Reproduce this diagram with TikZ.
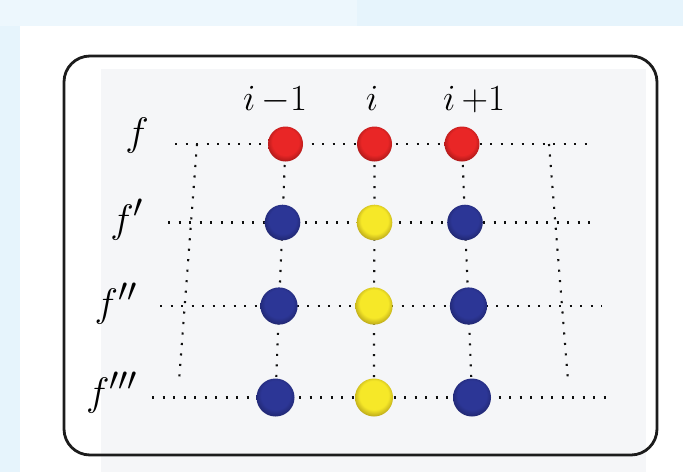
\documentclass[tikz,border=0pt]{standalone}

\definecolor{bandblue}{RGB}{230,244,252}
\definecolor{bandblueL}{RGB}{237,247,253}
\definecolor{panelgray}{RGB}{245,246,248}
\definecolor{framecol}{RGB}{28,28,28}
\definecolor{dotcol}{RGB}{15,15,15}
\definecolor{ballred}{RGB}{233,38,38}
\definecolor{ballredD}{RGB}{160,22,22}
\definecolor{ballredE}{RGB}{110,15,15}
\definecolor{ballblue}{RGB}{44,54,150}
\definecolor{ballblueD}{RGB}{30,36,105}
\definecolor{ballblueE}{RGB}{20,24,70}
\definecolor{ballyellow}{RGB}{246,232,40}
\definecolor{ballyellowD}{RGB}{175,155,22}
\definecolor{ballyellowE}{RGB}{120,105,15}

% soft sphere shadings: flat face, darker rim towards the bottom
\pgfdeclareradialshading{redsphere}{\pgfpoint{0bp}{5bp}}{color(0bp)=(ballred); color(19bp)=(ballred); color(29bp)=(ballredD); color(50bp)=(ballredE)}
\pgfdeclareradialshading{bluesphere}{\pgfpoint{0bp}{5bp}}{color(0bp)=(ballblue); color(19bp)=(ballblue); color(29bp)=(ballblueD); color(50bp)=(ballblueE)}
\pgfdeclareradialshading{yellowsphere}{\pgfpoint{0bp}{5bp}}{color(0bp)=(ballyellow); color(19bp)=(ballyellow); color(29bp)=(ballyellowD); color(50bp)=(ballyellowE)}

\tikzset{
  dotline/.style={draw=dotcol, line width=2.1pt, dash pattern=on 2.1pt off 8.4pt},
  ball/.style={circle, inner sep=0pt, minimum size=#1, shade},
  redball/.style={ball=#1, shading=redsphere},
  blueball/.style={ball=#1, shading=bluesphere},
  yellowball/.style={ball=#1, shading=yellowsphere},
  % math is set at 24.88pt (largest design size) and enlarged
  rowlabel/.style={anchor=base, inner sep=0pt, font=\fontsize{24.88}{28}\selectfont, scale=1.6, transform shape},
  collabel/.style={anchor=base, inner sep=0pt, font=\fontsize{24.88}{28}\selectfont, scale=1.48, transform shape}
}

\begin{document}
\begin{tikzpicture}[x=1pt, y=-1pt]
  \useasboundingbox (0,0) rectangle (683,472);

  % page background and panel
  \fill[bandblue] (0,0) rectangle (683,472);
  \fill[bandblueL] (0,0) rectangle (357,26);
  \fill[white] (20,26) rectangle (683,472);
  \fill[panelgray] (101,69) rectangle (646,472);
  \draw[framecol, line width=2.8pt, rounded corners=26pt] (64,56) rectangle (657,455);

  % grid points (slight perspective)
  \coordinate (p11) at (285.5,144);   \coordinate (p12) at (374.5,144);   \coordinate (p13) at (462,144);
  \coordinate (p21) at (282.5,222.5); \coordinate (p22) at (374.5,222.5); \coordinate (p23) at (465,222.5);
  \coordinate (p31) at (279,306);     \coordinate (p32) at (374,306);     \coordinate (p33) at (468.5,306);
  \coordinate (p41) at (275.5,397.5); \coordinate (p42) at (374,397.5);   \coordinate (p43) at (472,397.5);

  % row ends and outer verticals
  \coordinate (L1) at (175,144);   \coordinate (R1) at (587,144);
  \coordinate (L2) at (168,222.5); \coordinate (R2) at (593,222.5);
  \coordinate (L3) at (160,306);   \coordinate (R3) at (602,306);
  \coordinate (L4) at (152,397.5); \coordinate (R4) at (612,397.5);
  \coordinate (VLt) at (197,144);  \coordinate (VLb) at (179,381);
  \coordinate (VRt) at (549,144);  \coordinate (VRb) at (568,381);

  % dotted grid
  \draw[dotline] (L1) -- (R1);
  \draw[dotline] (L2) -- (R2);
  \draw[dotline] (L3) -- (R3);
  \draw[dotline] (L4) -- (R4);
  \draw[dotline] (VLt) -- (VLb);
  \draw[dotline] (VRt) -- (VRb);
  \draw[dotline] (p11) -- (p21) -- (p31) -- (p41);
  \draw[dotline] (p12) -- (p22) -- (p32) -- (p42);
  \draw[dotline] (p13) -- (p23) -- (p33) -- (p43);

  % spheres
  \node[redball=35pt] (b11) at (p11) {};
  \node[redball=35pt] (b12) at (p12) {};
  \node[redball=35pt] (b13) at (p13) {};
  \node[blueball=35.6pt] (b21) at (p21) {};
  \node[yellowball=35.6pt] (b22) at (p22) {};
  \node[blueball=35.6pt] (b23) at (p23) {};
  \node[blueball=37.2pt] (b31) at (p31) {};
  \node[yellowball=37.2pt] (b32) at (p32) {};
  \node[blueball=37.2pt] (b33) at (p33) {};
  \node[blueball=38pt] (b41) at (p41) {};
  \node[yellowball=38pt] (b42) at (p42) {};
  \node[blueball=38pt] (b43) at (p43) {};

  % column labels
  \node[collabel] (cim) at (275,110) {$i\,{-}1$};
  \node[collabel] (ci)  at (372,110) {$i$};
  \node[collabel] (cip) at (474,110) {$i\,{+}1$};

  % row labels
  \node[rowlabel] (lf0) at (137,145) {$f$};
  \node[rowlabel] (lf1) at (127,232) {$f'$};
  \node[rowlabel] (lf2) at (116,316) {$f''$};
  \node[rowlabel] (lf3) at (112,405) {$f'''$};
\end{tikzpicture}
\end{document}
